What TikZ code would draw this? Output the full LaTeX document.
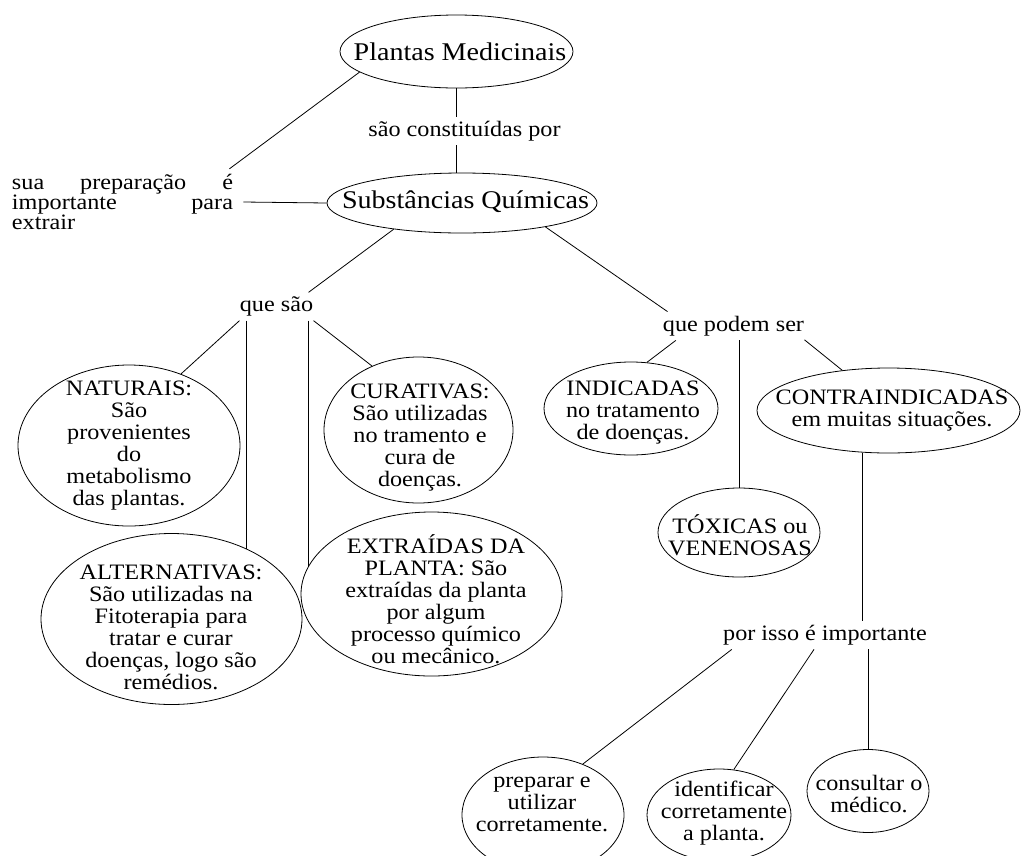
\documentclass[tikz,border=0pt]{standalone}
\usepackage{fontspec}
\setmainfont{Liberation Serif}[FakeStretch=1.1]
\usepackage{tikz}
\usetikzlibrary{shapes.geometric}
\tikzset{bubble/.style={draw, ellipse, inner sep=0pt},
  link/.style={inner xsep=0pt, inner ysep=4pt},
  big/.style={font=\fontsize{25.5}{28}\selectfont}}

\begin{document}
\begin{tikzpicture}[x=1pt, y=-1pt, line width=0.8pt,
    font=\fontsize{22}{22}\selectfont, every node/.style={align=center}]
    \useasboundingbox (0,0) rectangle (1021,855); \clip (0,0) rectangle
    (1021,855);
    \node [bubble, minimum width=233pt, minimum height=73pt] (pm) at
    (456.5,51.5) {}; \node [big] (pmt) at (460,52) {Plantas Medicinais};
    \node [link] (spc) at (464.5,131) {são constituídas por}; \node
    [bubble, minimum width=270pt, minimum height=60pt] (sq) at (462,203)
    {}; \node [big] (sqt) at (465.5,202) {Substâncias Químicas}; \node
    [text width=221pt, align=left, inner xsep=10pt, inner ysep=0pt,
    font=\fontsize{22}{20}\selectfont] (prep) at (122.5,202)
    {sua\hfill preparação\hfill é\\ importante\hfill para\\ extrair};
    \node [link] (qs) at (276.5,306.5) {que são}; \node [link] (qps) at
    (733.5,326) {que podem ser}; \node [link] (pi) at (825,635) {por isso
    é importante};
    \node [bubble, minimum width=222pt, minimum height=161pt] (nat) at
    (129,445.5) {}; \node (natt) at (129,446) {NATURAIS:\\ São\\
    provenientes\\ do\\ metabolismo\\ das plantas.}; \node [bubble,
    minimum width=261pt, minimum height=171pt] (alt) at (171.5,619) {};
    \node (altt) at (171,627) {ALTERNATIVAS:\\ São utilizadas na\\
    Fitoterapia para\\ tratar e curar\\ doenças, logo são\\ remédios.};
    \node [bubble, minimum width=189pt, minimum height=146pt] (cur) at
    (418.5,430) {}; \node (curt) at (420,438) {CURATIVAS:\\ São
    utilizadas\\ no tramento e\\ cura de\\ doenças.}; \node [bubble,
    minimum width=261pt, minimum height=164pt] (ext) at (431.5,594) {};
    \node (extt) at (436,599) {EXTRAÍDAS DA\\ PLANTA: São\\ extraídas da
    planta\\ por algum\\ processo químico\\ ou mecânico.};
    \node [bubble, minimum width=174pt, minimum height=93pt] (ind) at
    (631,408.5) {}; \node (indt) at (633,413) {INDICADAS\\ no
    tratamento\\ de doenças.}; \node [bubble, minimum width=162pt,
    minimum height=89pt] (tox) at (739,532.5) {}; \node (toxt) at
    (740,535) {TÓXICAS ou\\ VENENOSAS}; \node [bubble, minimum
    width=263pt, minimum height=85pt] (ci) at (888.5,410.5) {}; \node
    (cit) at (892,411) {CONTRAINDICADAS\\ em muitas situações.};
    \node [bubble, minimum width=162pt, minimum height=116pt] (pu) at
    (543,815) {}; \node (put) at (542,804) {preparar e\\ utilizar\\
    corretamente.}; \node [bubble, minimum width=144pt, minimum
    height=92pt] (id) at (719,815) {}; \node (idt) at (724,813)
    {identificar\\ corretamente\\ a planta.}; \node [bubble, minimum
    width=122pt, minimum height=83pt] (co) at (868,791) {}; \node (cot)
    at (869,794) {consultar o\\ médico.};
    \draw (pm.192) -- ([xshift=-14pt,yshift=5pt]prep.north east); \draw
    (prep.east) -- (sq.west); \draw (pm.south) -- (pm.south |-
    spc.north); \draw (pm.south |- spc.south) -- (pm.south |- sq.north);
    \draw (sq.201) -- ([xshift=-5pt]qs.north east); \draw (sq.-16) --
    ([xshift=5pt]qps.north west); \draw (qs.south west) -- (nat.54);
    \draw (alt.43 |- qs.south) -- (alt.43); \draw (ext.167 |- qs.south)
    -- (ext.167); \draw (qs.south east) -- (cur.126); \draw (qps.194) --
    (ind.71); \draw (tox.north |- qps.south) -- (tox.north); \draw
    (qps.-11) -- (ci.139); \draw ([xshift=-26pt]ci.south) --
    ([xshift=-26pt]ci.south |- pi.north); \draw ([xshift=9pt]pi.south
    west) -- (pu.52); \draw ([xshift=-11pt]pi.south) -- (id.72); \draw
    (co.north |- pi.south) -- (co.north);
  \end{tikzpicture}
\end{document}
